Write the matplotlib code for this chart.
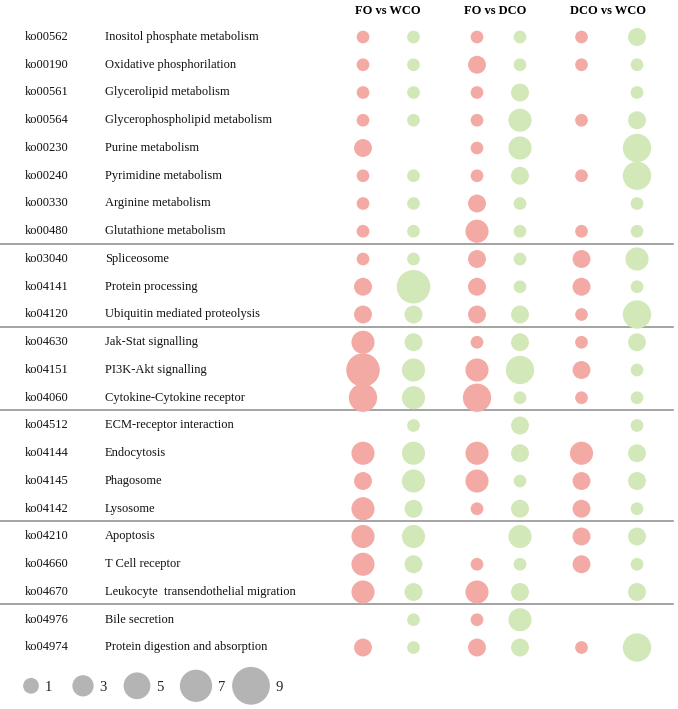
import matplotlib.pyplot as plt
import numpy as np

plt.rcParams['font.family'] = ['Liberation Serif', 'DejaVu Serif']

codes = ['ko00562', 'ko00190', 'ko00561', 'ko00564', 'ko00230', 'ko00240', 'ko00330', 'ko00480',
         'ko03040', 'ko04141', 'ko04120',
         'ko04630', 'ko04151', 'ko04060',
         'ko04512', 'ko04144', 'ko04145', 'ko04142',
         'ko04210', 'ko04660', 'ko04670',
         'ko04976', 'ko04974']
pathways = ['Inositol phosphate metabolism', 'Oxidative phosphorilation', 'Glycerolipid metabolism',
            'Glycerophospholipid metabolism', 'Purine metabolism', 'Pyrimidine metabolism',
            'Arginine metabolism', 'Glutathione metabolism',
            'Spliceosome', 'Protein processing', 'Ubiquitin mediated proteolysis',
            'Jak-Stat signalling', 'PI3K-Akt signalling', 'Cytokine-Cytokine receptor',
            'ECM-receptor interaction', 'Endocytosis', 'Phagosome', 'Lysosome',
            'Apoptosis', 'T Cell receptor', 'Leukocyte  transendothelial migration',
            'Bile secretion', 'Protein digestion and absorption']
comparisons = ['FO vs WCO', 'FO vs DCO', 'DCO vs WCO']
# row group sizes (separated by lines)
groups = [8, 3, 3, 4, 3, 2]

# bubble levels, 0 = no bubble; one pair (red, green) per comparison
fo_wco_red   = [1, 1, 1, 1, 3, 1, 1, 1, 1, 3, 3, 5, 9, 7, 0, 5, 3, 5, 5, 5, 5, 0, 3]
fo_wco_green = [1, 1, 1, 1, 0, 1, 1, 1, 1, 9, 3, 3, 5, 5, 1, 5, 5, 3, 5, 3, 3, 1, 1]
fo_dco_red   = [1, 3, 1, 1, 1, 1, 3, 5, 3, 3, 3, 1, 5, 7, 0, 5, 5, 1, 0, 1, 5, 1, 3]
fo_dco_green = [1, 1, 3, 5, 5, 3, 1, 1, 1, 1, 3, 3, 7, 1, 3, 3, 1, 3, 5, 1, 3, 5, 3]
dco_wco_red  = [1, 1, 0, 1, 0, 1, 0, 1, 3, 3, 1, 1, 3, 1, 0, 5, 3, 3, 3, 3, 0, 0, 1]
dco_wco_green = [3, 1, 1, 3, 7, 7, 1, 1, 5, 1, 7, 3, 1, 1, 1, 3, 3, 1, 3, 1, 3, 0, 7]
legend_levels = [1, 3, 5, 7, 9]

red = '#f4aaa4'
green = '#d2e8b8'
grey = '#b4b4b4'

W, H = 678, 709
fig = plt.figure(figsize=(W / 100, H / 100), dpi=100)
ax = fig.add_axes([0, 0, 1, 1])
ax.set_xlim(0, W)
row_px, row0 = 27.75, 37
ax.set_ylim((H - row0) / row_px, -row0 / row_px)
ax.axis('off')


def size_chart(v):
    d = 10.1 + 2.6 * np.asarray(v, dtype=float)  # diameter in px
    return np.where(np.asarray(v) > 0, (d * 0.72) ** 2, 0)


def size_legend(v):
    d = 13.0 + 2.75 * np.asarray(v, dtype=float)
    return (d * 0.72) ** 2


rows = np.arange(len(codes))
series = [(fo_wco_red, red, 363), (fo_wco_green, green, 413.5),
          (fo_dco_red, red, 477), (fo_dco_green, green, 520),
          (dco_wco_red, red, 581.5), (dco_wco_green, green, 637)]
for vals, col, x in series:
    vals = np.array(vals)
    m = vals > 0
    ax.scatter(np.full(m.sum(), x), rows[m], s=size_chart(vals[m]), color=col,
               edgecolors='none', zorder=3)

for r in rows:
    ax.text(25, r, codes[r], fontsize=9, va='center', ha='left', color='#111111')
    ax.text(105, r, pathways[r], fontsize=9, va='center', ha='left', color='#111111')

for name, x in zip(comparisons, [388, 495.5, 607.5]):
    ax.text(x, -0.93, name, fontsize=9, fontweight='bold', ha='center', va='center')

edges = np.cumsum(groups)[:-1]
for e in edges:
    ax.axhline(e - 0.55, xmin=0, xmax=673 / W, color='#8a8a8a', lw=1.1, zorder=1)

leg_y = len(codes) + 0.38
leg_x = [31, 83, 137, 196, 251]
ax.scatter(leg_x, np.full(len(leg_x), leg_y), s=size_legend(legend_levels), color=grey,
           edgecolors='none')
for lx, lv in zip(leg_x, legend_levels):
    d = 13.0 + 2.75 * lv
    ax.text(lx + d / 2 + 6, leg_y + 0.05, str(lv), fontsize=10.5, ha='left', va='center',
            color='#222222')

fig.savefig('out.png', dpi=100)
